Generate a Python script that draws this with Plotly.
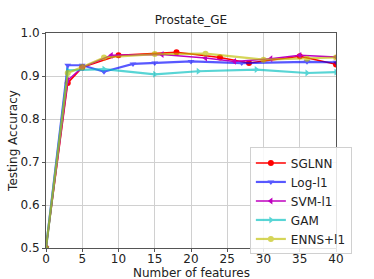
import plotly.graph_objects as go

sglnn_x = [0, 3, 5, 10, 18, 24, 28, 35, 40]
sglnn_y = [0.50, 0.884, 0.920, 0.948, 0.955, 0.943, 0.930, 0.946, 0.927]

log_x = [0, 3, 5, 8, 12, 15, 20, 27, 36, 40]
log_y = [0.50, 0.925, 0.925, 0.910, 0.928, 0.930, 0.934, 0.930, 0.933, 0.932]

svm_x = [0, 3, 5, 9, 16, 22, 26, 31, 35, 40]
svm_y = [0.50, 0.890, 0.920, 0.948, 0.950, 0.942, 0.934, 0.940, 0.948, 0.944]

gam_x = [0, 3, 8, 15, 21, 29, 36, 40]
gam_y = [0.50, 0.913, 0.916, 0.904, 0.911, 0.915, 0.907, 0.909]

enns_x = [0, 3, 5, 8, 15, 22, 30, 36, 40]
enns_y = [0.50, 0.907, 0.921, 0.943, 0.951, 0.952, 0.938, 0.940, 0.943]

series = [
    ("SGLNN", sglnn_x, sglnn_y, "rgb(255,0,0)", "circle", 1.5, 1.0),
    ("Log-l1", log_x, log_y, "rgb(0,0,255)", "triangle-down", 2.2, 0.65),
    ("SVM-l1", svm_x, svm_y, "rgb(191,0,191)", "triangle-left", 1.5, 1.0),
    ("GAM", gam_x, gam_y, "rgb(0,191,191)", "triangle-right", 2.2, 0.65),
    ("ENNS+l1", enns_x, enns_y, "rgb(191,191,0)", "circle", 2.2, 0.65),
]

fig = go.Figure()
for name, xs, ys, col, sym, lw, op in series:
    fig.add_trace(go.Scatter(
        x=xs, y=ys, name=name, mode="lines+markers",
        line=dict(color=col, width=lw),
        marker=dict(symbol=sym, size=6, color=col),
        opacity=op,
    ))

fig.update_layout(
    width=374, height=279,
    margin=dict(l=46, r=38, t=33, b=31),
    paper_bgcolor="white", plot_bgcolor="white",
    font=dict(family="DejaVu Sans", size=12, color="#222"),
    title=dict(text="Prostate_GE", x=(46 + 145) / 374, xanchor="center",
               y=1 - 20 / 279, yanchor="middle", font=dict(size=12)),
    showlegend=True,
    legend=dict(x=0.703, y=-0.03, xanchor="left", yanchor="bottom",
                bgcolor="rgba(255,255,255,0.85)", bordercolor="#d0d0d0",
                borderwidth=1, font=dict(size=12), tracegroupgap=0),
    annotations=[dict(text="Number of features", xref="paper", yref="paper",
                      x=0.5, y=-0.114, xanchor="center", yanchor="middle",
                      showarrow=False, font=dict(size=12))],
)
fig.update_xaxes(
    range=[0, 40], tick0=0, dtick=5, showgrid=True, gridcolor="#d0d0d0",
    showline=True, linecolor="#555", mirror=True, ticks="outside",
    ticklen=3, tickcolor="#555", zeroline=False, automargin=False,
    tickfont=dict(size=12), ticklabelstandoff=-3,
)
fig.update_yaxes(
    range=[0.5, 1.0], tick0=0.5, dtick=0.1, tickformat=".1f", showgrid=True,
    gridcolor="#d0d0d0", showline=True, linecolor="#555", mirror=True,
    ticks="outside", ticklen=3, tickcolor="#555", zeroline=False,
    automargin=False, tickfont=dict(size=12),
    title=dict(text="Testing Accuracy", standoff=0, font=dict(size=12)),
)

fig.write_html("out.html", config={"displayModeBar": False},
               post_script="document.body.style.margin='0px';")
